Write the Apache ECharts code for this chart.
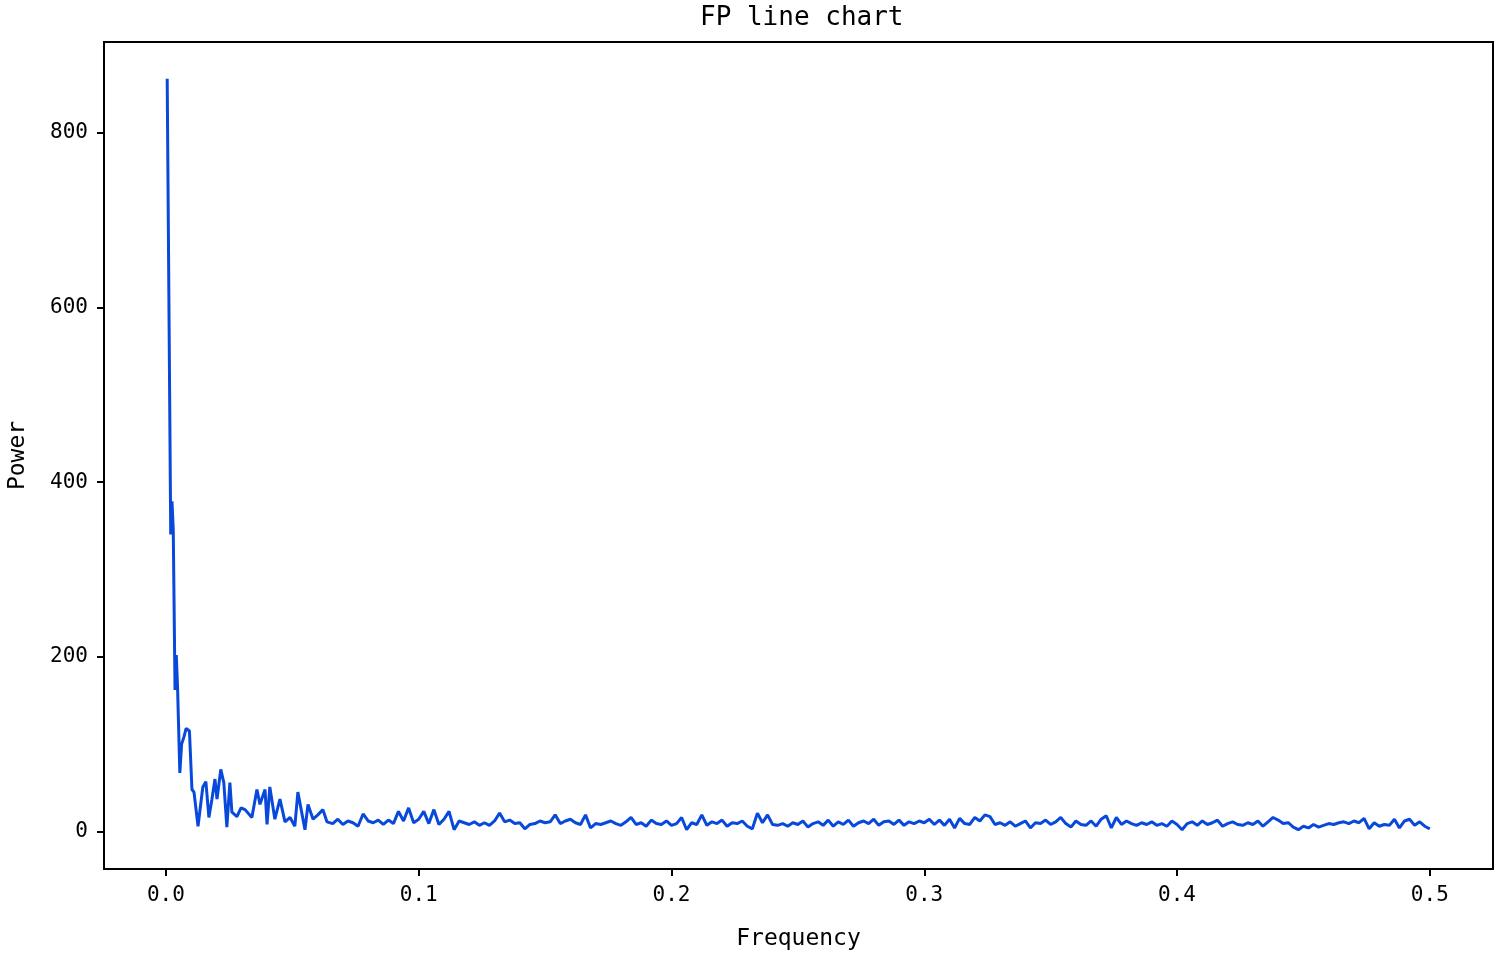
<!DOCTYPE html>
<html>
<head>
<meta charset="utf-8">
<title>FP line chart</title>
<script src="https://cdn.jsdelivr.net/npm/echarts@6/dist/echarts.min.js"></script>
<style>
  html, body { margin: 0; padding: 0; background: #fff; }
  #chart { width: 1500px; height: 956px; }
</style>
</head>
<body>
<div id="chart"></div>
<script>
// low-frequency part, read point by point
const headFreq = [0.0005, 0.0019, 0.0024, 0.0029, 0.0036, 0.0041, 0.0046, 0.0055, 0.0062, 0.0071,
  0.0080, 0.0087, 0.0093, 0.0103, 0.0111, 0.0127, 0.0146, 0.0158, 0.0170, 0.0182,
  0.0194, 0.0202, 0.0217, 0.0229, 0.0241, 0.0253, 0.0261, 0.0281, 0.0297, 0.0313,
  0.0340, 0.0360, 0.0372, 0.0392, 0.0400, 0.0411, 0.0431, 0.0451, 0.0471, 0.0491,
  0.0510, 0.0522, 0.0550, 0.0562, 0.0582, 0.0601, 0.0621, 0.0637]
const headPower = [862, 340, 378, 345, 162, 202, 165, 67, 100, 108,
  118, 120, 115, 48, 45, 6, 51, 57, 16, 37,
  60, 37, 71, 56, 5, 56, 22, 17, 27, 25,
  16, 48, 31, 48, 8, 51, 14, 37, 11, 16,
  6, 45, 2, 31, 14, 19, 25, 11]

// rest of the spectrum, sampled every 0.002 from 0.066
const tailStart = 0.066
const tailStep = 0.002
const tailPower = [
  9, 14, 8, 12, 10, 6, 20, 12, 10, 13,
  8, 13, 9, 23, 12, 27, 10, 14, 23, 9,
  25, 8, 14, 23, 2, 12, 10, 8, 11, 7,
  10, 7, 12, 21, 11, 13, 9, 10, 3, 8,
  9, 12, 10, 11, 19, 9, 12, 14, 10, 8,
  19, 4, 9, 8, 10, 12, 9, 7, 11, 16,
  8, 10, 6, 13, 9, 8, 12, 7, 9, 16,
  2, 10, 8, 19, 7, 11, 9, 13, 6, 10,
  9, 12, 6, 3, 21, 10, 19, 8, 7, 9,
  6, 10, 8, 12, 5, 9, 11, 7, 13, 6,
  11, 8, 13, 6, 10, 12, 9, 14, 7, 11,
  12, 8, 13, 7, 11, 9, 12, 10, 14, 8,
  13, 7, 14, 4, 15, 9, 8, 16, 12, 19,
  17, 8, 10, 7, 11, 6, 9, 12, 4, 10,
  9, 13, 8, 11, 16, 9, 5, 12, 8, 7,
  12, 6, 14, 18, 4, 16, 8, 12, 9, 7,
  10, 8, 11, 7, 9, 6, 12, 8, 2, 9,
  11, 7, 12, 8, 10, 13, 6, 9, 11, 8,
  7, 10, 8, 12, 6, 11, 16, 13, 9, 10,
  5, 2, 6, 4, 8, 5, 7, 9, 8, 10,
  11, 9, 12, 10, 15, 3, 10, 6, 8, 7,
  14, 4, 12, 14, 7, 11, 6, 3]

const xTicks = [0.0, 0.1, 0.2, 0.3, 0.4, 0.5]
const yTicks = [0, 200, 400, 600, 800]

let points = headFreq.map((f, i) => [f, headPower[i]])
tailPower.forEach((p, i) => {
  points.push([+(tailStart + tailStep * i).toFixed(4), p])
})

const font = 'DejaVu Sans Mono'

let option = {
  animation: false,
  backgroundColor: '#fff',
  title: {
    text: 'FP line chart',
    left: 695,
    top: 0,
    textStyle: { fontFamily: font, fontWeight: 'normal', fontSize: 26, color: '#000' }
  },
  grid: {
    left: 104, right: 7, top: 42, bottom: 87,
    outerBoundsMode: 'none',
    containLabel: false,
    show: true, borderColor: '#000', borderWidth: 2
  },
  xAxis: {
    type: 'value',
    min: -0.0245,
    max: 0.525,
    name: 'Frequency',
    nameLocation: 'middle',
    nameGap: 59,
    nameTextStyle: { fontFamily: font, fontSize: 23, color: '#000' },
    axisLine: { onZero: false, lineStyle: { color: '#000', width: 2 } },
    axisTick: { show: true, inside: false, length: 7, lineStyle: { color: '#000', width: 2 }, customValues: xTicks },
    axisLabel: {
      customValues: xTicks,
      margin: 16,
      fontFamily: font, fontSize: 21, color: '#000',
      formatter: v => v.toFixed(1)
    },
    splitLine: { show: false }
  },
  yAxis: {
    type: 'value',
    min: -43,
    max: 904,
    name: 'Power',
    nameLocation: 'middle',
    nameGap: 74,
    nameRotate: 90,
    nameTextStyle: { fontFamily: font, fontSize: 23, color: '#000' },
    axisLine: { show: true, onZero: false, lineStyle: { color: '#000', width: 2 } },
    axisTick: { show: true, inside: false, length: 7, lineStyle: { color: '#000', width: 2 }, customValues: yTicks },
    axisLabel: {
      customValues: yTicks,
      margin: 16,
      fontFamily: font, fontSize: 21, color: '#000'
    },
    splitLine: { show: false }
  },
  series: [{
    type: 'line',
    data: points,
    showSymbol: false,
    lineStyle: { color: '#0849dc', width: 3 },
    itemStyle: { color: '#0849dc' }
  }]
}

let chart = echarts.init(document.getElementById('chart'))
chart.setOption(option)
</script>
</body>
</html>
